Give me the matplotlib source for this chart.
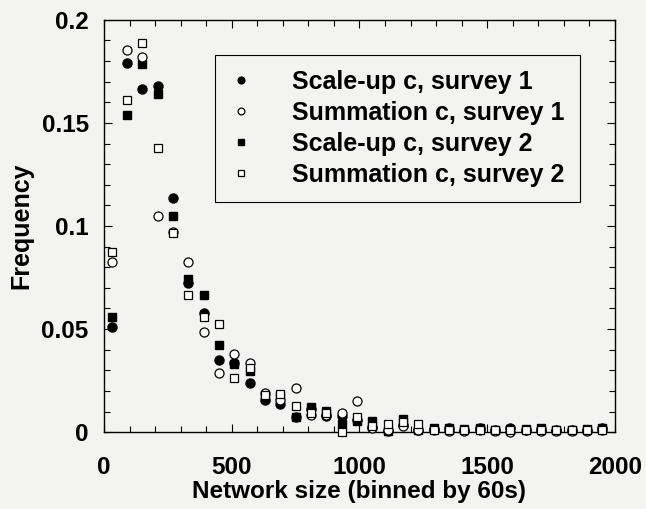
import matplotlib
matplotlib.use("Agg")
from matplotlib import pyplot as plt
from matplotlib.ticker import MultipleLocator, FixedLocator, FixedFormatter

# bin centres (network size binned by 60s)
bins = [30, 90, 150, 210, 270, 330, 390, 450, 510, 570,
        630, 690, 750, 810, 870, 930, 990, 1050, 1110, 1170,
        1230, 1290, 1350, 1410, 1470, 1530, 1590, 1650, 1710, 1770,
        1830, 1890, 1950]

scaleup_s1 = [0.0512, 0.179, 0.1666, 0.168, 0.1136, 0.0725, 0.058, 0.035, 0.0333, 0.024,
              0.0155, 0.0136, 0.0072, 0.0112, 0.0078, 0.0078, 0.006, 0.0026, 0.0006, 0.0034,
              0.0008, 0.0015, 0.0018, 0.0012, 0.0022, 0.0010, 0.0020, 0.0012, 0.0016, 0.0010,
              0.0010, 0.0012, 0.0022]
summation_s1 = [0.0825, 0.1855, 0.182, 0.1048, 0.097, 0.0827, 0.0488, 0.0289, 0.0378, 0.0333,
                0.0188, 0.0155, 0.0213, 0.0084, 0.0085, 0.0092, 0.0152, 0.002, 0.001, 0.003,
                0.001, 0.0008, 0.0005, 0.0005, 0.001, 0.0005, 0.0, 0.0008, 0.0005, 0.0005,
                0.0005, 0.0005, 0.0008]
scaleup_s2 = [0.056, 0.154, 0.1785, 0.164, 0.1048, 0.0744, 0.0665, 0.0421, 0.033, 0.0297,
              0.0165, 0.0176, 0.0074, 0.0124, 0.0103, 0.0039, 0.0056, 0.0052, 0.0006, 0.0066,
              0.001, 0.0018, 0.002, 0.0015, 0.0018, 0.0012, 0.0015, 0.0015, 0.0022, 0.0012,
              0.0012, 0.0015, 0.0018]
summation_s2 = [0.0873, 0.161, 0.189, 0.138, 0.0964, 0.0665, 0.0558, 0.0526, 0.0265, 0.031,
                0.0178, 0.0184, 0.0126, 0.0095, 0.0095, 0.0, 0.0074, 0.003, 0.004, 0.005,
                0.004, 0.001, 0.0008, 0.0008, 0.001, 0.0008, 0.0008, 0.0008, 0.0008, 0.0008,
                0.0008, 0.0008, 0.001]

series_names = ["Scale-up c, survey 1", "Summation c, survey 1",
                "Scale-up c, survey 2", "Summation c, survey 2"]
xtick_vals = [0, 500, 1000, 1500, 2000]
xtick_text = ["0", "500", "1000", "1500", "2000"]
ytick_vals = [0, 0.05, 0.1, 0.15, 0.2]
ytick_text = ["0", "0.05", "0.1", "0.15", "0.2"]

plt.rcParams['font.family'] = ['Liberation Sans', 'DejaVu Sans']
plt.rcParams['font.weight'] = 'bold'

bg = '#f3f3f1'
fig = plt.figure(figsize=(6.46, 5.09), dpi=100, facecolor=bg)
ax = fig.add_axes([0.161, 0.151, 0.791, 0.810])
ax.set_facecolor(bg)

ax.plot(bins, scaleup_s1, 'o', color='black', markersize=6.5, linestyle='none',
        label=series_names[0], zorder=3, clip_on=False)
ax.plot(bins, summation_s1, 'o', markerfacecolor='white', markeredgecolor='black',
        markeredgewidth=0.9, markersize=6.5, linestyle='none',
        label=series_names[1], zorder=5, clip_on=False)
ax.plot(bins, scaleup_s2, 's', color='black', markersize=6, linestyle='none',
        label=series_names[2], zorder=4, clip_on=False)
ax.plot(bins, summation_s2, 's', markerfacecolor='white', markeredgecolor='black',
        markeredgewidth=0.9, markersize=6, linestyle='none',
        label=series_names[3], zorder=6, clip_on=False)

ax.set_xlim(0, 2000)
ax.set_ylim(0, 0.2)
ax.xaxis.set_major_locator(FixedLocator(xtick_vals))
ax.xaxis.set_major_formatter(FixedFormatter(xtick_text))
ax.xaxis.set_minor_locator(MultipleLocator(100))
ax.yaxis.set_major_locator(FixedLocator(ytick_vals))
ax.yaxis.set_major_formatter(FixedFormatter(ytick_text))
ax.yaxis.set_minor_locator(MultipleLocator(0.01))
ax.tick_params(which='both', direction='in', top=True, right=True, width=0.8)
ax.tick_params(which='major', length=6, labelsize=17.5)
ax.tick_params(axis='x', which='major', pad=17)
ax.tick_params(axis='y', which='major', pad=11)
ax.tick_params(which='minor', length=4)
for s in ax.spines.values():
    s.set_linewidth(1.0)

ax.set_xlabel('Network size (binned by 60s)', fontsize=17.5, fontweight='bold', labelpad=1)
ax.set_ylabel('Frequency', fontsize=18, fontweight='bold', labelpad=6)

leg = ax.legend(loc='upper left', bbox_to_anchor=(215 / 646, 1 - 55 / 509),
                bbox_transform=fig.transFigure, borderaxespad=0,
                fontsize=18, markerscale=0.75, handlelength=0.9, handletextpad=1.6,
                labelspacing=0.28, borderpad=0.6, fancybox=False, framealpha=1)
leg.get_frame().set_edgecolor('black')
leg.get_frame().set_linewidth(0.8)
leg.get_frame().set_facecolor(bg)

fig.savefig('out.png', dpi=100, facecolor=bg)
